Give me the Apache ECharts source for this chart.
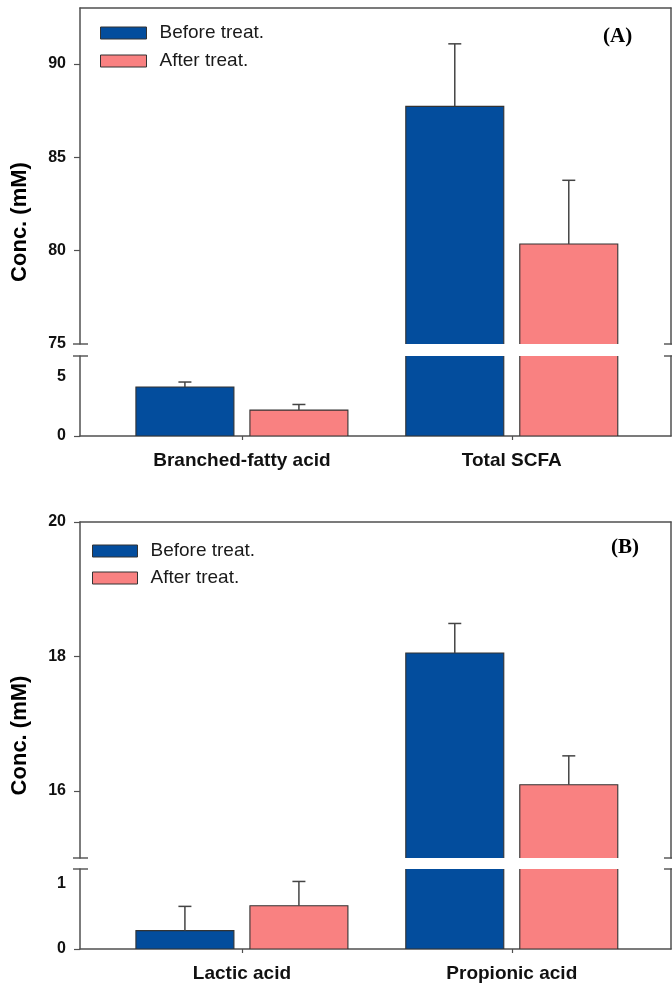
<!DOCTYPE html>
<html>
<head>
<meta charset="utf-8">
<script src="https://cdn.jsdelivr.net/npm/echarts@6/dist/echarts.min.js"></script>
<style>
html,body{margin:0;padding:0;background:#fff;}
#chart{width:672px;height:988px;}
</style>
</head>
<body>
<div id="chart"></div>
<script>
// ---------- data ----------
const catsA = ['Branched-fatty acid', 'Total SCFA'];
const beforeA = [4.1, 87.73];
const beforeAErr = [0.42, 3.35];
const afterA = [2.17, 80.36];
const afterAErr = [0.47, 3.41];

const catsB = ['Lactic acid', 'Propionic acid'];
const beforeB = [0.28, 18.05];
const beforeBErr = [0.37, 0.44];
const afterB = [0.66, 16.09];
const afterBErr = [0.37, 0.43];

const seriesNames = ['Before treat.', 'After treat.'];
const yLabelsAUpper = [75, 80, 85, 90];
const yTicksAUpper = [80, 85, 90];
const yLabelsALower = [0, 5];
const yLabelsBUpper = [16, 18, 20];
const yLabelsBLower = [0, 1];

// ---------- style / layout ----------
const BLUE = '#034D9D';
const PINK = '#F98181';
const AXIS = '#505050';
const SANS = '"Liberation Sans", Arial, sans-serif';
const SERIF = '"Liberation Serif", "Times New Roman", serif';
const BAR_W = 98, HALF_GAP = 57;
const X_MIN = 0.4, X_MAX = 2.59;

const grids = [
  {left: 80, right: 1, top: 8, height: 336},   // A upper
  {left: 80, right: 1, top: 356, height: 80},  // A lower
  {left: 80, right: 1, top: 522, height: 336}, // B upper
  {left: 80, right: 1, top: 869, height: 80}   // B lower
];

function xAxisFor(gi, cats, isLower) {
  return {
    type: 'value', gridIndex: gi, min: X_MIN, max: X_MAX,
    position: isLower ? 'bottom' : 'top',
    splitLine: {show: false},
    axisLine: {show: true, onZero: false, lineStyle: {color: AXIS, width: 1.5}},
    axisTick: isLower ? {show: true, length: 4, customValues: [1, 2], lineStyle: {color: AXIS, width: 1.2}} : {show: false},
    axisLabel: isLower ? {
      show: true, customValues: [1, 2], margin: 15,
      formatter: v => cats[Math.round(v) - 1] || '',
      fontFamily: SANS, fontWeight: 'bold', fontSize: 19, color: '#111'
    } : {show: false}
  };
}

function yAxisLeft(gi, min, max, labels, ticks) {
  return {
    type: 'value', gridIndex: gi, min: min, max: max, position: 'left',
    splitLine: {show: false},
    axisLine: {show: true, onZero: false, lineStyle: {color: AXIS, width: 1.5}},
    axisTick: {show: ticks.length > 0, length: 6, customValues: ticks, lineStyle: {color: AXIS, width: 1.2}},
    axisLabel: {show: true, customValues: labels, margin: 14,
      fontFamily: SANS, fontWeight: 'bold', fontSize: 16, color: '#111'}
  };
}
function yAxisRight(gi, min, max) {
  return {
    type: 'value', gridIndex: gi, min: min, max: max, position: 'right',
    splitLine: {show: false},
    axisLine: {show: true, onZero: false, lineStyle: {color: AXIS, width: 1.5}},
    axisTick: {show: false}, axisLabel: {show: false}
  };
}

const xAxes = [
  xAxisFor(0, catsA, false), xAxisFor(1, catsA, true),
  xAxisFor(2, catsB, false), xAxisFor(3, catsB, true)
];
const yAxes = [
  yAxisLeft(0, 75, 93, yLabelsAUpper, yTicksAUpper),
  yAxisLeft(1, 0, 6.7, yLabelsALower, [0]),
  yAxisLeft(2, 15, 20, yLabelsBUpper, yLabelsBUpper),
  yAxisLeft(3, 0, 1.22, yLabelsBLower, [0]),
  yAxisRight(0, 75, 93), yAxisRight(1, 0, 6.7),
  yAxisRight(2, 15, 20), yAxisRight(3, 0, 1.22)
];

function makeSeries(name, color, vals, errs, axisIdx, offset) {
  return {
    type: 'custom', name: name,
    xAxisIndex: axisIdx, yAxisIndex: axisIdx,
    clip: true,
    itemStyle: {color: color},
    encode: {x: 0, y: 1},
    data: vals.map((v, i) => [i + 1, v, errs[i]]),
    renderItem: function (params, api) {
      const x = api.value(0), v = api.value(1), e = api.value(2);
      const base = api.coord([x, 0]);
      const top = api.coord([x, v]);
      const et = api.coord([x, v + e]);
      const cx = base[0] + offset;
      return {
        type: 'group',
        children: [
          {type: 'rect', shape: {x: cx - BAR_W / 2, y: top[1], width: BAR_W, height: base[1] - top[1]},
            style: {fill: color, stroke: '#333', lineWidth: 1.1}},
          {type: 'line', shape: {x1: cx, y1: top[1], x2: cx, y2: et[1]},
            style: {stroke: '#444', lineWidth: 1.5}},
          {type: 'line', shape: {x1: cx - 6.5, y1: et[1], x2: cx + 6.5, y2: et[1]},
            style: {stroke: '#444', lineWidth: 1.5}}
        ]
      };
    }
  };
}

const series = [];
[0, 1].forEach(gi => {
  series.push(makeSeries(seriesNames[0], BLUE, beforeA, beforeAErr, gi, -HALF_GAP));
  series.push(makeSeries(seriesNames[1], PINK, afterA, afterAErr, gi, HALF_GAP));
});
[2, 3].forEach(gi => {
  series.push(makeSeries(seriesNames[0], BLUE, beforeB, beforeBErr, gi, -HALF_GAP));
  series.push(makeSeries(seriesNames[1], PINK, afterB, afterBErr, gi, HALF_GAP));
});

function legendAt(left, top, w, gap) {
  return {
    left: left, top: top, orient: 'vertical', padding: 0,
    icon: 'rect', itemWidth: w, itemHeight: 12, itemGap: gap,
    selectedMode: false,
    itemStyle: {borderColor: '#333', borderWidth: 1},
    textStyle: {fontFamily: SANS, fontSize: 19, color: '#1a1a1a', lineHeight: 20, padding: [0, 0, 0, 8]},
    data: seriesNames
  };
}

// break marks and decorative texts derived from grid layout
const graphics = [];
function breakMarks(upper, lower) {
  const yU = upper.top + upper.height, yL = lower.top;
  [yU, yL].forEach(y => {
    graphics.push({type: 'line', shape: {x1: 73, y1: y, x2: 88, y2: y}, style: {stroke: AXIS, lineWidth: 1.4}});
    graphics.push({type: 'line', shape: {x1: 664, y1: y, x2: 680, y2: y}, style: {stroke: AXIS, lineWidth: 1.4}});
  });
}
breakMarks(grids[0], grids[1]);
breakMarks(grids[2], grids[3]);
function yTitle(upper, lower) {
  const cy = (upper.top + lower.top + lower.height) / 2;
  graphics.push({type: 'text', x: 20, y: cy, rotation: Math.PI / 2,
    style: {text: 'Conc. (mM)', align: 'center', verticalAlign: 'middle',
      font: 'bold 22px ' + SANS, fill: '#000'}});
}
yTitle(grids[0], grids[1]);
yTitle(grids[2], grids[3]);
graphics.push({type: 'text', x: 603, y: 37, style: {text: '(A)', align: 'left', verticalAlign: 'middle', font: 'bold 21px ' + SERIF, fill: '#000'}});
graphics.push({type: 'text', x: 611, y: 548, style: {text: '(B)', align: 'left', verticalAlign: 'middle', font: 'bold 21px ' + SERIF, fill: '#000'}});

const chart = echarts.init(document.getElementById('chart'), null, {renderer: 'canvas'});
chart.setOption({
  animation: false,
  backgroundColor: '#fff',
  grid: grids,
  xAxis: xAxes,
  yAxis: yAxes,
  legend: [legendAt(100, 23, 46, 8), legendAt(92, 541, 45, 7)],
  series: series,
  graphic: graphics
});
</script>
</body>
</html>
